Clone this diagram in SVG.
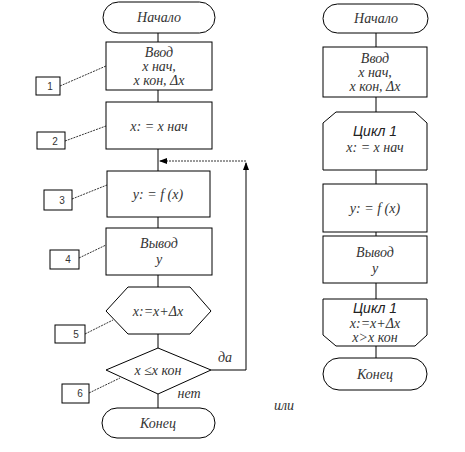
<svg xmlns="http://www.w3.org/2000/svg" width="465" height="452" viewBox="0 0 465 452">
<style>
.s{fill:#fff;stroke:#000;stroke-width:1}
.l{stroke:#000;stroke-width:1;fill:none}
.d{stroke:#000;stroke-width:0.8;fill:none;stroke-dasharray:2,1}
.t{font-family:"Liberation Serif","DejaVu Serif","Times New Roman",serif;font-style:italic;font-size:14px;fill:#333;text-anchor:middle}
.n{font-family:"Liberation Sans",Arial,sans-serif;font-size:10px;fill:#333;text-anchor:middle}
.c{font-family:"Liberation Sans",Arial,sans-serif;font-style:italic;font-size:14px;fill:#222;text-anchor:middle}
</style>
<defs>
<marker id="a" markerWidth="8" markerHeight="6" refX="7" refY="3" orient="auto" markerUnits="userSpaceOnUse">
<path d="M0,0 L8,3 L0,6 z" fill="#000"/>
</marker>
</defs>
<g id="connectors">
<line class="l" x1="158" y1="32" x2="158" y2="42"/>
<line class="l" x1="158" y1="90" x2="158" y2="102"/>
<line class="l" x1="158" y1="149" x2="158" y2="171"/>
<line class="l" x1="158" y1="217" x2="158" y2="228"/>
<line class="l" x1="158" y1="275" x2="158" y2="287"/>
<line class="l" x1="158" y1="334" x2="158" y2="348"/>
<line class="l" x1="158" y1="394" x2="158" y2="408"/>
<polyline class="l" points="211,370 246,370 246,163" marker-end="url(#a)"/>
<line class="d" x1="246" y1="161" x2="160" y2="161" marker-end="url(#a)"/>
<line class="d" x1="60" y1="86" x2="106" y2="66"/>
<line class="d" x1="65" y1="141" x2="106" y2="126"/>
<line class="d" x1="72" y1="199" x2="107" y2="185"/>
<line class="d" x1="79" y1="258" x2="106" y2="245"/>
<line class="d" x1="85" y1="334" x2="113" y2="320"/>
<line class="d" x1="89" y1="393" x2="120" y2="378"/>
<line class="l" x1="376" y1="33" x2="376" y2="47"/>
<line class="l" x1="376" y1="97" x2="376" y2="112"/>
<line class="l" x1="376" y1="170" x2="376" y2="184"/>
<line class="l" x1="376" y1="232" x2="376" y2="236"/>
<line class="l" x1="376" y1="283" x2="376" y2="299"/>
<line class="l" x1="376" y1="346" x2="376" y2="358"/>
</g>
<g id="start1"><rect class="s" x="103" y="2" width="112" height="31" rx="15.5"/><text class="t" x="159" y="22">Начало</text></g>
<g id="input1"><rect class="s" x="106" y="42" width="106" height="48"/><text class="t" x="159" y="57">Ввод</text><text class="t" x="159" y="71">x нач,</text><text class="t" x="159" y="85">x кон, Δx</text></g>
<g id="label1"><rect class="s" x="36" y="77" width="24" height="18"/><text class="n" x="50" y="90">1</text></g>
<g id="assign1"><rect class="s" x="106" y="102" width="106" height="47"/><text class="t" x="159" y="131">x: = x нач</text></g>
<g id="label2"><rect class="s" x="37" y="132" width="28" height="17"/><text class="n" x="55" y="145">2</text></g>
<g id="calc1"><rect class="s" x="107" y="171" width="103" height="46"/><text class="t" x="158" y="199">y: = f (x)</text></g>
<g id="label3"><rect class="s" x="44" y="190" width="28" height="20"/><text class="n" x="62" y="204">3</text></g>
<g id="output1"><rect class="s" x="106" y="228" width="106" height="47"/><text class="t" x="159" y="248">Вывод</text><text class="t" x="159" y="264">y</text></g>
<g id="label4"><rect class="s" x="50" y="250" width="29" height="19"/><text class="n" x="68" y="263">4</text></g>
<g id="inc1"><polygon class="s" points="128,287 190,287 211,311 190,334 128,334 106,311"/><text class="t" x="158" y="316">x:=x+Δx</text></g>
<g id="label5"><rect class="s" x="55" y="325" width="30" height="18"/><text class="n" x="76" y="338">5</text></g>
<g id="cond1"><polygon class="s" points="158,348 211,370 158,394 106,370"/><text class="t" x="158" y="375">x ≤x кон</text></g>
<g id="label6"><rect class="s" x="62" y="384" width="27" height="19"/><text class="n" x="80" y="397">6</text></g>
<g id="labels"><text class="t" x="225" y="362">да</text><text class="t" x="189" y="398">нет</text><text class="t" x="284" y="410">или</text></g>
<g id="end1"><rect class="s" x="102" y="408" width="113" height="30" rx="15"/><text class="t" x="158" y="428">Конец</text></g>
<g id="start2"><rect class="s" x="323" y="4" width="105" height="29" rx="14.5"/><text class="t" x="376" y="23">Начало</text></g>
<g id="input2"><rect class="s" x="323" y="47" width="104" height="50"/><text class="t" x="375" y="63">Ввод</text><text class="t" x="375" y="77">x нач,</text><text class="t" x="375" y="91">x кон, Δx</text></g>
<g id="loop2"><polygon class="s" points="336,112 415,112 427,123 427,170 323,170 323,123"/><text class="c" x="375" y="136">Цикл 1</text><text class="t" x="375" y="152">x: = x нач</text></g>
<g id="calc2"><rect class="s" x="323" y="184" width="104" height="48"/><text class="t" x="375" y="213">y: = f (x)</text></g>
<g id="output2"><rect class="s" x="323" y="236" width="104" height="47"/><text class="t" x="375" y="257">Вывод</text><text class="t" x="375" y="273">y</text></g>
<g id="loopend2"><polygon class="s" points="323,299 427,299 427,335 415,346 336,346 323,335"/><text class="c" x="375" y="313">Цикл 1</text><text class="t" x="375" y="328">x:=x+Δx</text><text class="t" x="375" y="342">x&gt;x кон</text></g>
<g id="end2"><rect class="s" x="323" y="358" width="104" height="32" rx="16"/><text class="t" x="375" y="379">Конец</text></g>
</svg>
